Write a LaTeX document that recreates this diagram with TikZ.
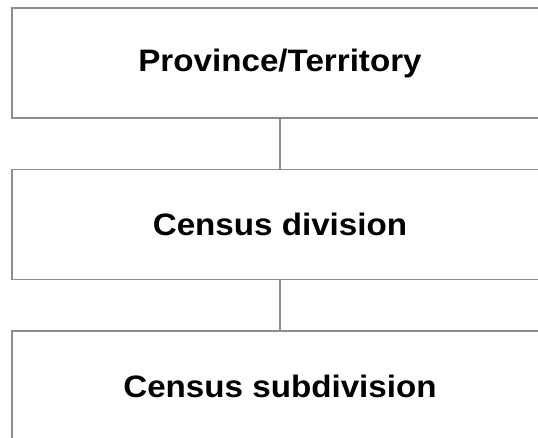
\documentclass[tikz,border=0pt]{standalone}
\usepackage{fontspec}
\usepackage{graphicx}
\setmainfont{Liberation Sans}
\usetikzlibrary{positioning}
\tikzset{
	level/.style={draw=gray!90,line width=1.6pt,minimum width=536pt,minimum height=110pt,inner sep=0pt,font=\fontsize{31}{36}\selectfont\bfseries},%
	link/.style={draw=gray!90,line width=1.4pt},%
}
\newcommand{\wide}[1]{\scalebox{1.07}[1]{#1}}

\begin{document}
\begin{tikzpicture}[x=1pt,y=1pt]
		% Frame {{{
		\useasboundingbox (0,0) rectangle (538,438);
		\clip (0,0) rectangle (538,438);
		% }}}
		% Levels {{{
		\node[level] (province) at (280,375) {\wide{Province/Territory}};
		\node[level,below=50pt of province] (division) {\wide{Census division}};
		\node[level,below=50pt of division] (subdivision) {\wide{Census subdivision}};
		\draw[link] (province) -- (division);
		\draw[link] (division) -- (subdivision);
		% }}}
	\end{tikzpicture}
\end{document}
